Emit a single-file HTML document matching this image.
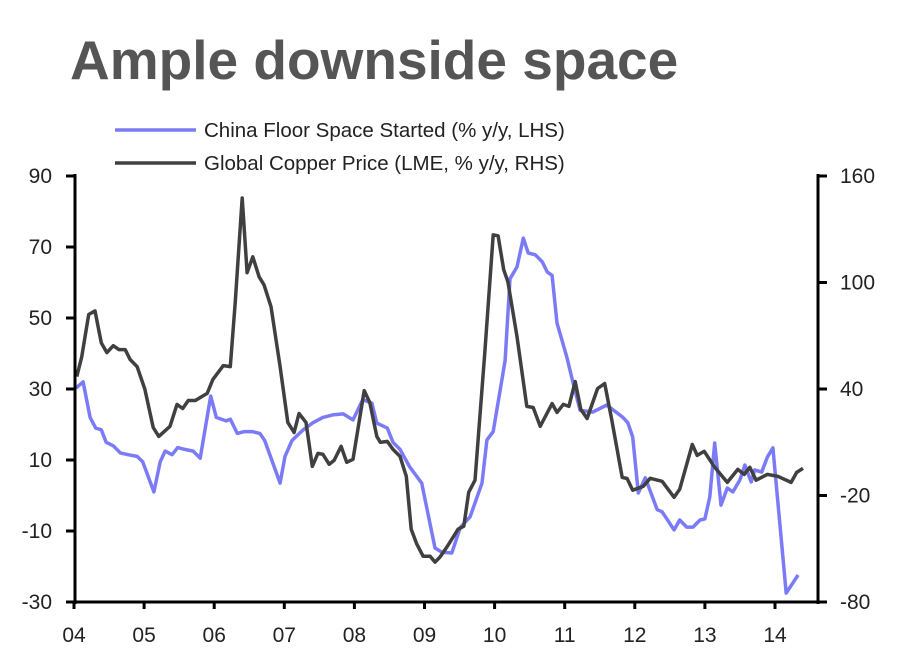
<!DOCTYPE html>
<html><head><meta charset="utf-8"><style>
body{margin:0;background:#fff;}
svg text{font-family:"Liberation Sans",sans-serif;}
</style></head><body>
<svg id="chart" width="900" height="667">
<text x="70" y="79" font-size="55" font-weight="bold" fill="#555">Ample downside space</text>
<g>
<line x1="115" y1="130" x2="196" y2="130" stroke="#7b7bf7" stroke-width="3.5"/>
<text x="204" y="137" font-size="20.5" fill="#222">China Floor Space Started (% y/y, LHS)</text>
<line x1="115" y1="163" x2="196" y2="163" stroke="#404040" stroke-width="3.5"/>
<text x="204" y="170" font-size="20.5" fill="#222">Global Copper Price (LME, % y/y, RHS)</text>
</g>
<g id="plot"></g>
</svg>
<script>
const yearTicks=["04","05","06","07","08","09","10","11","12","13","14"];
const leftTicks=[90,70,50,30,10,-10,-30];
const rightTicks=[160,100,40,-20,-80];
const chinaDates=[0.03,0.13,0.23,0.31,0.39,0.46,0.56,0.66,0.77,0.90,0.98,1.14,1.23,1.30,1.40,1.48,1.58,1.70,1.80,1.95,2.03,2.17,2.23,2.33,2.43,2.54,2.65,2.72,2.94,3.01,3.11,3.27,3.41,3.55,3.69,3.84,3.98,4.12,4.25,4.32,4.47,4.55,4.65,4.79,4.96,5.15,5.25,5.39,5.51,5.65,5.82,5.89,5.98,6.15,6.22,6.32,6.41,6.48,6.58,6.68,6.75,6.82,6.89,7.03,7.12,7.22,7.40,7.60,7.83,7.90,7.97,8.05,8.15,8.32,8.39,8.56,8.64,8.74,8.83,8.93,9.00,9.07,9.14,9.23,9.32,9.40,9.50,9.57,9.66,9.71,9.81,9.89,9.97,10.16,10.33];
const chinaValues=[30.3,32,22,19,18.5,15,14,12,11.5,11,9.5,1,9.5,12.5,11.5,13.5,13,12.5,10.5,28,22,21,21.5,17.5,18,18,17.5,15.5,3.5,11,15.5,18.5,20.5,22,22.7,23,21.3,27,26,20.4,19,15,13,8,3.5,-14.8,-16,-16.2,-9,-6,3.5,15.6,18,38,61,64.4,72.5,68.3,67.8,65.8,63,62,48.6,39,31.7,24,23.5,25.5,22,20.5,16.5,0.7,5,-4,-4.6,-9.7,-6.9,-8.9,-8.9,-6.9,-6.6,-0.4,14.8,-2.7,2.1,1,4.4,8.6,3.8,7.2,6.6,10.8,13.4,-27.5,-22.4];
const copperDates=[0.04,0.11,0.21,0.30,0.39,0.47,0.56,0.64,0.73,0.80,0.90,1.01,1.13,1.21,1.37,1.47,1.55,1.63,1.73,1.90,1.98,2.13,2.23,2.30,2.40,2.47,2.55,2.64,2.71,2.81,2.94,3.05,3.14,3.21,3.31,3.40,3.48,3.55,3.64,3.71,3.81,3.89,3.98,4.14,4.22,4.32,4.37,4.47,4.55,4.65,4.74,4.81,4.89,4.98,5.08,5.15,5.22,5.32,5.48,5.56,5.63,5.72,5.86,5.98,6.05,6.13,6.19,6.32,6.46,6.55,6.65,6.82,6.89,6.98,7.06,7.15,7.23,7.32,7.47,7.57,7.67,7.82,7.89,7.97,8.12,8.22,8.39,8.56,8.64,8.82,8.89,8.99,9.14,9.32,9.47,9.56,9.64,9.73,9.89,10.04,10.23,10.31,10.40];
const copperValues=[47,58,82,84,66,60.5,64.4,62.2,62.2,56.6,52.6,40,18.3,13.3,19,31.3,29,33.5,33.5,37.5,45.3,53.2,52.6,88.6,147.6,105.5,114.5,103.2,98.7,86.4,52.6,21.2,15.5,26.2,21.2,-3.6,3.7,3.2,-2.4,-0.2,7.7,-1.3,0.4,39.1,32.4,13.3,10,10.5,6,2,-9.2,-39,-47.4,-54.2,-54.2,-57.5,-54.7,-49,-39,-37.3,-18.2,-11.4,60.5,126.8,126.3,107.2,100.4,69.5,30.2,29.6,19,31.8,26.8,31.3,30.2,44.2,28.5,23.4,40.3,43.1,22.8,-9.8,-10.4,-17,-14.8,-10.3,-12,-21,-16.5,8.8,2.6,4.9,-4.1,-12.6,-5.3,-8.1,-4.1,-11.4,-8.1,-9.2,-12.6,-7,-4.7];

const X0=74,XW=70.1,TOP=176,BOT=602,LEFT=75,RIGHT=818;
const xS=d=>X0+d*XW;
const yL=v=>TOP+(90-v)/120*(BOT-TOP);
const yR=v=>TOP+(160-v)/240*(BOT-TOP);
const NS="http://www.w3.org/2000/svg";
const g=document.getElementById('plot');
function mk(tag,attrs){const e=document.createElementNS(NS,tag);for(const k in attrs)e.setAttribute(k,attrs[k]);g.appendChild(e);return e;}

function line(dates,vals,ys,color,name){
  const p=dates.map((d,i)=>xS(d).toFixed(1)+","+ys(vals[i]).toFixed(1)).join(" ");
  const e=mk('polyline',{points:p,fill:"none",stroke:color,"stroke-width":3.5,"stroke-linejoin":"round"});
  
  
}
line(chinaDates,chinaValues,yL,"#7b7bf7","series-china-floor-space");
line(copperDates,copperValues,yR,"#404040","series-copper-price");

let a=mk('line',{x1:LEFT,y1:TOP-2,x2:LEFT,y2:BOT+2,stroke:"#000","stroke-width":3});


a=mk('line',{x1:RIGHT,y1:TOP-2,x2:RIGHT,y2:BOT+2,stroke:"#000","stroke-width":3});


a=mk('line',{x1:LEFT,y1:BOT,x2:RIGHT,y2:BOT,stroke:"#000","stroke-width":3});



leftTicks.forEach(v=>{
  const y=yL(v);
  const t=mk('line',{x1:LEFT-9,y1:y,x2:LEFT,y2:y,stroke:"#000","stroke-width":3});
  
  
  const l=mk('text',{x:52,y:y+7,"text-anchor":"end","font-size":21,fill:"#222"});
  l.textContent=v;
  
  
});
rightTicks.forEach(v=>{
  const y=yR(v);
  const t=mk('line',{x1:RIGHT,y1:y,x2:RIGHT+9,y2:y,stroke:"#000","stroke-width":3});
  
  
  const l=mk('text',{x:840,y:y+7,"font-size":21,fill:"#222"});
  l.textContent=v;
  
  
});
yearTicks.forEach((s,i)=>{
  const x=xS(i);
  const t=mk('line',{x1:x,y1:BOT,x2:x,y2:BOT+7,stroke:"#000","stroke-width":3});
  
  
  const l=mk('text',{x:x,y:642,"text-anchor":"middle","font-size":21,fill:"#222"});
  l.textContent=s;
  
  
});
</script>
</body></html>
